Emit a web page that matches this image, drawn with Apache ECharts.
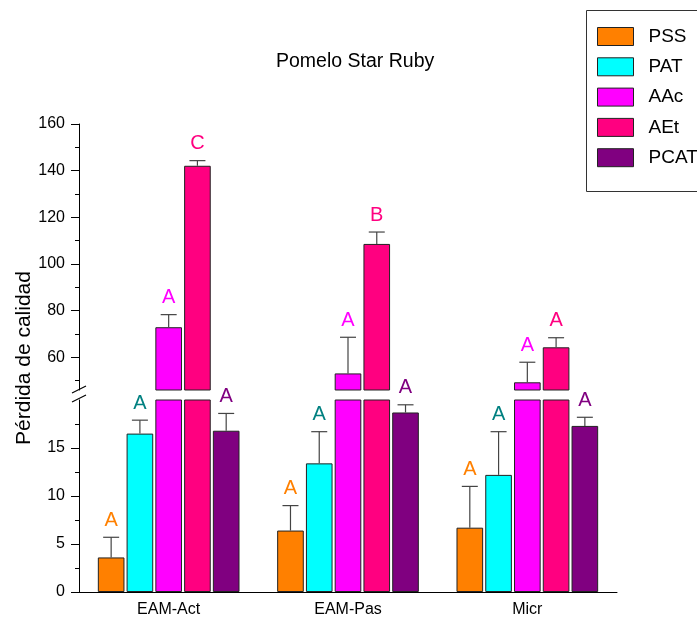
<!DOCTYPE html>
<html>
<head>
<meta charset="utf-8">
<script src="https://cdn.jsdelivr.net/npm/echarts@6/dist/echarts.min.js"></script>
<style>html,body{margin:0;padding:0;background:#fff}#c{width:697px;height:618px}</style>
</head>
<body>
<div id="c"></div>
<script>
const categories = ['EAM-Act', 'EAM-Pas', 'Micr'];
const seriesNames = ['PSS', 'PAT', 'AAc', 'AEt', 'PCAT'];
const PSS = [3.6, 6.4, 6.7];
const PAT = [16.5, 13.4, 12.2];
const AAc = [72.9, 53.1, 49.3];
const AEt = [142.1, 108.6, 64.3];
const PCAT = [16.8, 18.7, 17.3];
const PSS_err = [2.1, 2.6, 4.3];
const PAT_err = [1.4, 3.3, 4.5];
const AAc_err = [5.4, 15.5, 8.6];
const AEt_err = [2.2, 5.1, 4.1];
const PCAT_err = [1.8, 0.8, 0.9];
const PSS_letters = ['A', 'A', 'A'];
const PAT_letters = ['A', 'A', 'A'];
const AAc_letters = ['A', 'A', 'A'];
const AEt_letters = ['C', 'B', 'A'];
const PCAT_letters = ['A', 'A', 'A'];
const lowMin = 0, lowMax = 20;
const highMin = 46, highMax = 160;
const lowTicks = [0, 5, 10, 15];
const lowMinorTicks = [2.5, 7.5, 12.5, 17.5];
const highTicks = [60, 80, 100, 120, 140, 160];
const highMinorTicks = [50, 70, 90, 110, 130, 150];

const values = [PSS, PAT, AAc, AEt, PCAT];
const errors = [PSS_err, PAT_err, AAc_err, AEt_err, PCAT_err];
const letters = [PSS_letters, PAT_letters, AAc_letters, AEt_letters, PCAT_letters];
const colors = ['#FF8000', '#00FFFF', '#FF00FF', '#FF0080', '#800080'];
const letterColors = ['#FF8000', '#008080', '#FF00FF', '#FF0080', '#800080'];
const FONT = '"Liberation Sans", Arial, sans-serif';
const CAT_GAP = 0.21, BAR_GAP = 0.08;

const chart = echarts.init(document.getElementById('c'), null, {renderer: 'canvas'});

const upperRows = [], lowerRows = [];
values.forEach((arr, s) => arr.forEach((v, c) => {
  const row = [c, s, v, errors[s][c], letters[s][c]];
  if (v > lowMax) upperRows.push(row); else lowerRows.push(row);
}));

function makeRender(rows) {
  return function (params, api) {
    const row = rows[params.dataIndex];
    const c = row[0], s = row[1], v = row[2], e = row[3];
    const base = api.coord([c, v]);
    const top = api.coord([c, v + e]);
    const band = api.size([1, 0])[0];
    const n = seriesNames.length;
    const bw = band * (1 - CAT_GAP) / (n + (n - 1) * BAR_GAP);
    const total = n * bw + (n - 1) * bw * BAR_GAP;
    const x = base[0] - total / 2 + s * bw * (1 + BAR_GAP) + bw / 2;
    return {
      type: 'group',
      children: [
        {type: 'line', shape: {x1: x, y1: base[1], x2: x, y2: top[1]}, style: {stroke: '#444', lineWidth: 1.2}},
        {type: 'line', shape: {x1: x - 8, y1: top[1], x2: x + 8, y2: top[1]}, style: {stroke: '#444', lineWidth: 1.2}},
        {type: 'text', x: x, y: top[1] - 17, style: {text: row[4], fill: letterColors[s], font: '20px ' + FONT, align: 'center', verticalAlign: 'middle'}}
      ]
    };
  };
}

const series = [];
seriesNames.forEach((name, s) => {
  series.push({
    name: name, type: 'bar', xAxisIndex: 0, yAxisIndex: 0,
    data: values[s].map(v => v > highMin ? v : '-'),
    barCategoryGap: (CAT_GAP * 100) + '%', barGap: (BAR_GAP * 100) + '%',
    itemStyle: {color: colors[s], borderColor: '#222', borderWidth: 1},
    clip: true
  });
  series.push({
    name: name, type: 'bar', xAxisIndex: 1, yAxisIndex: 1,
    data: values[s].slice(),
    barCategoryGap: (CAT_GAP * 100) + '%', barGap: (BAR_GAP * 100) + '%',
    itemStyle: {color: colors[s], borderColor: '#222', borderWidth: 1},
    clip: true
  });
});
series.push({type: 'custom', name: 'errUpper', xAxisIndex: 0, yAxisIndex: 0, z: 10,
  data: upperRows.map(r => [r[0], r[1], r[2], r[3]]), renderItem: makeRender(upperRows)});
series.push({type: 'custom', name: 'errLower', xAxisIndex: 1, yAxisIndex: 1, z: 10,
  data: lowerRows.map(r => [r[0], r[1], r[2], r[3]]), renderItem: makeRender(lowerRows)});

const axisBlack = {lineStyle: {color: '#000', width: 1}};
const option = {
  animation: false,
  backgroundColor: '#fff',
  title: {
    text: 'Pomelo Star Ruby', left: 276, top: 52, padding: 0,
    textStyle: {fontFamily: FONT, fontSize: 19.5, fontWeight: 'normal', color: '#000'}
  },
  legend: {
    data: seriesNames, orient: 'vertical', left: 597, top: 27, padding: 0,
    itemWidth: 36, itemHeight: 18, itemGap: 11.3, icon: 'rect',
    itemStyle: {borderColor: '#222', borderWidth: 1},
    textStyle: {fontFamily: FONT, fontSize: 19, color: '#000', lineHeight: 18, padding: [0, 0, 0, 10]}
  },
  grid: [
    {left: 79, right: 80, top: 124, height: 266, containLabel: false},
    {left: 79, right: 80, top: 400, height: 192, containLabel: false}
  ],
  xAxis: [
    {gridIndex: 0, type: 'category', data: categories, show: false},
    {gridIndex: 1, type: 'category', data: categories, position: 'bottom',
      axisLine: axisBlack, axisTick: {length: 5, lineStyle: {color: '#000'}},
      axisLabel: {fontFamily: FONT, fontSize: 16, color: '#000', margin: 10}},
    {gridIndex: 1, type: 'category', data: categories, position: 'bottom',
      axisLine: {show: false}, axisTick: {inside: true, length: 4, lineStyle: {color: '#000'}},
      axisLabel: {show: false}},
    {gridIndex: 1, type: 'category', data: categories, position: 'bottom',
      axisLine: {show: false}, axisTick: {alignWithLabel: true, length: 3, lineStyle: {color: '#000'}},
      axisLabel: {show: false}}
  ],
  yAxis: [
    {gridIndex: 0, type: 'value', min: highMin, max: highMax, position: 'left',
      axisLine: {show: true, lineStyle: {color: '#000'}},
      axisTick: {show: true, length: 8, customValues: highTicks, lineStyle: {color: '#000'}},
      axisLabel: {customValues: highTicks, fontFamily: FONT, fontSize: 16, color: '#000', margin: 14},
      splitLine: {show: false}},
    {gridIndex: 1, type: 'value', min: lowMin, max: lowMax, position: 'left',
      axisLine: {show: true, lineStyle: {color: '#000'}},
      axisTick: {show: true, length: 8, customValues: lowTicks, lineStyle: {color: '#000'}},
      axisLabel: {customValues: lowTicks, fontFamily: FONT, fontSize: 16, color: '#000', margin: 14},
      splitLine: {show: false}},
    {gridIndex: 0, type: 'value', min: highMin, max: highMax, position: 'left',
      axisLine: {show: false},
      axisTick: {show: true, length: 4, customValues: highMinorTicks, lineStyle: {color: '#000'}},
      axisLabel: {show: false}, splitLine: {show: false}},
    {gridIndex: 1, type: 'value', min: lowMin, max: lowMax, position: 'left',
      axisLine: {show: false},
      axisTick: {show: true, length: 4, customValues: lowMinorTicks, lineStyle: {color: '#000'}},
      axisLabel: {show: false}, splitLine: {show: false}}
  ],
  graphic: [
    {type: 'rect', shape: {x: 586.5, y: 10.5, width: 200, height: 181}, style: {fill: 'none', stroke: '#333', lineWidth: 1}, z: -1},
    {type: 'text', x: 24, y: 358, rotation: Math.PI / 2,
      style: {text: 'Pérdida de calidad', font: '21px ' + FONT, fill: '#000', align: 'center', verticalAlign: 'middle'}},
    {type: 'line', shape: {x1: 72, y1: 393, x2: 86, y2: 386}, style: {stroke: '#000', lineWidth: 1.2}},
    {type: 'line', shape: {x1: 72, y1: 402, x2: 86, y2: 395}, style: {stroke: '#000', lineWidth: 1.2}}
  ],
  series: series
};
chart.setOption(option);
</script>
</body>
</html>
